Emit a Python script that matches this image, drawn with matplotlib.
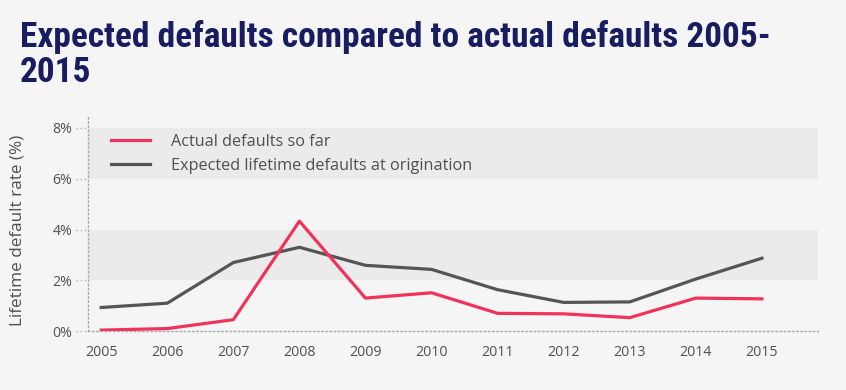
import matplotlib
matplotlib.use("Agg")
import matplotlib.pyplot as plt
from matplotlib import font_manager as fm

years = [2005, 2006, 2007, 2008, 2009, 2010, 2011, 2012, 2013, 2014, 2015]
actual = [0.04, 0.10, 0.45, 4.33, 1.30, 1.51, 0.70, 0.68, 0.53, 1.30, 1.27]
expected = [0.93, 1.10, 2.70, 3.30, 2.59, 2.43, 1.63, 1.13, 1.15, 2.05, 2.87]
yticks = [0, 2, 4, 6, 8]
ytick_labels = ["0%", "2%", "4%", "6%", "8%"]
series_names = ["Actual defaults so far", "Expected lifetime defaults at origination"]
title_lines = ["Expected defaults compared to actual defaults 2005-", "2015"]
ylabel = "Lifetime default rate (%)"

names = {f.name for f in fm.fontManager.ttflist}
body_font = "Open Sans" if "Open Sans" in names else "DejaVu Sans"


def pick_title_font():
    fam_pref = ["Noto Sans", "Open Sans", "Noto Sans Display", "Roboto"]
    cands = []
    for f in fm.fontManager.ttflist:
        base = f.fname.lower().split("/")[-1]
        fn = base.replace("_", "").replace("-", "").replace(" ", "")
        if "italic" in fn or "mono" in fn:
            continue
        if "semicondensedbold" in fn:
            kind = 0
        elif "condensedbold" in fn and "extra" not in fn and "ultra" not in fn:
            kind = 1
        else:
            continue
        nm = f.name
        fam_rank = len(fam_pref)
        for i, p in enumerate(fam_pref):
            if nm == p or nm.startswith(p + " "):
                if p == "Noto Sans" and nm.startswith("Noto Sans Display"):
                    continue
                fam_rank = min(fam_rank, i)
        if fam_rank == len(fam_pref):
            continue
        cands.append((kind, fam_rank, f.fname))
    if cands:
        cands.sort()
        return fm.FontProperties(fname=cands[0][2])
    return fm.FontProperties(family="DejaVu Sans", weight="bold")


title_fp = pick_title_font()

bg = "#f5f5f5"
fig = plt.figure(figsize=(8.46, 3.90), dpi=100, facecolor=bg)
ax = fig.add_axes([0.104, 0.151, 0.863, 0.549], facecolor=bg)

ax.set_xlim(2004.8, 2015.85)
ax.set_ylim(0, 8.43)

for lo, hi in [(2, 4), (6, 8)]:
    ax.axhspan(lo, hi, color="#ebebeb", zorder=0, lw=0)

ax.plot(years, actual, color="#f2325b", lw=2.3, label=series_names[0], zorder=3)
ax.plot(years, expected, color="#555555", lw=2.3, label=series_names[1], zorder=2)

for s in ["top", "right"]:
    ax.spines[s].set_visible(False)
for s in ["left", "bottom"]:
    ax.spines[s].set_linestyle((0, (1, 2)))
    ax.spines[s].set_color("#aaaaaa")
    ax.spines[s].set_linewidth(1)

ax.set_xticks(years)
ax.set_xticklabels([str(y) for y in years], fontsize=10.2, color="#505050", family=body_font)
ax.set_yticks(yticks)
ax.set_yticklabels(ytick_labels, fontsize=10.2, color="#505050", family=body_font)
ax.tick_params(axis="x", length=0, pad=10)
ax.tick_params(axis="y", length=0, pad=11.5)

for t in yticks:
    ax.plot([-0.016, -0.002], [t, t], transform=ax.get_yaxis_transform(),
            color="#aaaaaa", lw=1, ls=(0, (1, 2)), clip_on=False)

ax.set_ylabel(ylabel, fontsize=12.3, color="#505050", family=body_font)
ax.yaxis.set_label_coords(-0.085, 0.472)

leg = ax.legend(loc="upper left", bbox_to_anchor=(0.012, 0.99), frameon=False,
                prop={"family": body_font, "size": 11.7}, handlelength=2.4,
                handletextpad=1.3, labelspacing=0.5)
for t in leg.get_texts():
    t.set_color("#505050")

# title: fit first line width to reference (~773 px)
title_fp.set_size(24)
t1 = fig.text(20 / 846, 1 - 46.7 / 390, title_lines[0], fontproperties=title_fp,
              color="#181c60", va="baseline")
fig.canvas.draw()
w = t1.get_window_extent().width
size = min(24 * 773.0 / w, 25.5)
title_fp.set_size(size)
t1.set_fontproperties(title_fp)
fig.text(20 / 846, 1 - 81.7 / 390, title_lines[1], fontproperties=title_fp,
         color="#181c60", va="baseline")

fig.savefig("out.png", dpi=100, facecolor=bg)
